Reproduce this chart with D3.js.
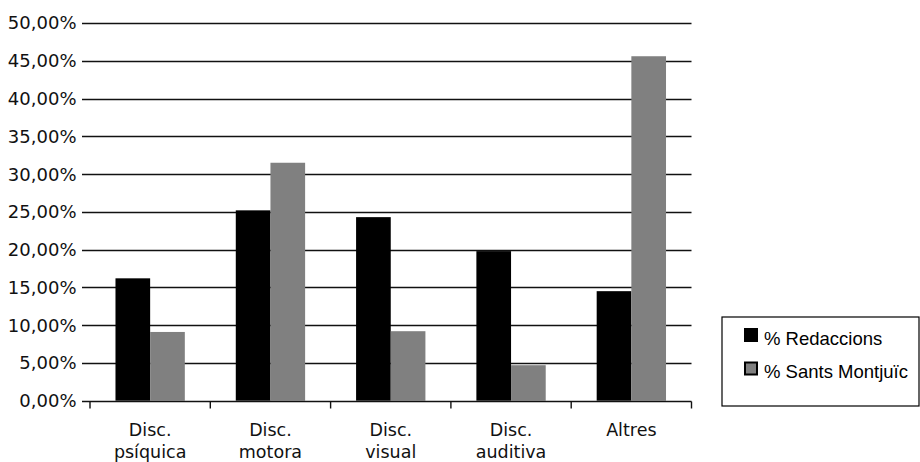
<!DOCTYPE html>
<html>
<head>
<meta charset="utf-8">
<script src="https://cdn.jsdelivr.net/npm/d3@7"></script>
<style>
  body { margin: 0; background: #fff; }
  svg { display: block; }
</style>
</head>
<body>
<svg width="920" height="462"></svg>
<script>
// Categories and series (percent values)
const categories = [["Disc.", "psíquica"], ["Disc.", "motora"], ["Disc.", "visual"], ["Disc.", "auditiva"], ["Altres"]];
const seriesNames = ["% Redaccions", "% Sants Montjuïc"];
const redaccions = [16.2, 25.2, 24.3, 19.8, 14.5];
const santsMontjuic = [9.1, 31.5, 9.2, 4.7, 45.6];
const yTicks = [0, 5, 10, 15, 20, 25, 30, 35, 40, 45, 50];
const colors = ["#000000", "#808080"];

let svg = d3.select("svg");

// area of the plot
let area = { left: 90, right: 691.5, top: 23, bottom: 400.7 };

let catKeys = categories.map((c, i) => i);

let scaleX = d3.scaleBand()
    .domain(catKeys)
    .range([area.left, area.right]);

let scaleInner = d3.scaleBand()
    .domain([0, 1])
    .range([0, scaleX.bandwidth()])
    .paddingInner(0)
    .paddingOuter(0.735);

let scaleY = d3.scaleLinear()
    .domain([0, 50])
    .range([area.bottom, area.top]);

// Grid lines (with tick on left)
svg.append("g")
    .selectAll("line")
    .data(yTicks.filter(d => d > 0))
    .enter()
    .append("line")
    .attr("x1", area.left - 8)
    .attr("x2", area.right)
    .attr("y1", d => Math.round(scaleY(d)) + 0.5)
    .attr("y2", d => Math.round(scaleY(d)) + 0.5)
    .style("stroke", "#111")
    .style("stroke-width", 1.4);

// Y labels
let fmt = d => d3.format(".2f")(d).replace(".", ",") + "%";
svg.append("g")
    .selectAll("text")
    .data(yTicks)
    .enter()
    .append("text")
    .attr("x", 76.5)
    .attr("y", d => scaleY(d))
    .attr("dy", "0.36em")
    .attr("text-anchor", "end")
    .style("font-family", "DejaVu Sans")
    .style("font-size", "18px")
    .style("fill", "#111")
    .text(fmt);

// Bars
let seriesData = [redaccions, santsMontjuic];
seriesData.forEach((vals, s) => {
    svg.append("g")
        .selectAll("rect")
        .data(vals)
        .enter()
        .append("rect")
        .attr("x", (d, i) => scaleX(i) + scaleInner(s))
        .attr("y", d => scaleY(d))
        .attr("width", scaleInner.bandwidth())
        .attr("height", d => scaleY(0) - scaleY(d))
        .style("fill", colors[s]);
});

// X axis with ticks on band edges
let gx = svg.append("g")
    .attr("transform", `translate(0, ${Math.round(area.bottom) + 0.5})`);
gx.append("line")
    .attr("x1", area.left - 8)
    .attr("x2", area.right)
    .style("stroke", "#111")
    .style("stroke-width", 1.4);
gx.selectAll(".xt")
    .data(catKeys.concat([catKeys.length]))
    .enter()
    .append("line")
    .attr("x1", d => d < catKeys.length ? scaleX(d) : area.right)
    .attr("x2", d => d < catKeys.length ? scaleX(d) : area.right)
    .attr("y1", 0)
    .attr("y2", 7)
    .style("stroke", "#111")
    .style("stroke-width", 1.4);

// Category labels
let lab = svg.append("g")
    .selectAll("text")
    .data(categories)
    .enter()
    .append("text")
    .attr("x", (d, i) => scaleX(i) + scaleX.bandwidth() / 2)
    .attr("y", 435.5)
    .attr("text-anchor", "middle")
    .style("font-family", "DejaVu Sans")
    .style("font-size", "17.5px")
    .style("fill", "#111");
lab.each(function(d) {
    let t = d3.select(this);
    d.forEach((line, k) => {
        t.append("tspan")
            .attr("x", t.attr("x"))
            .attr("dy", k == 0 ? 0 : 22.5)
            .text(line);
    });
});

// Legend
let leg = svg.append("g");
leg.append("rect")
    .attr("x", 722)
    .attr("y", 317)
    .attr("width", 197)
    .attr("height", 89)
    .style("fill", "none")
    .style("stroke", "#000")
    .style("stroke-width", 1.2);
seriesNames.forEach((name, s) => {
    let y0 = 328 + s * 33.5;
    leg.append("rect")
        .attr("x", s == 0 ? 744 : 745)
        .attr("y", s == 0 ? y0 : y0 + 1)
        .attr("width", s == 0 ? 14 : 12)
        .attr("height", s == 0 ? 14 : 12)
        .style("fill", colors[s])
        .style("stroke", "#000")
        .style("stroke-width", s == 0 ? 0 : 2);
    leg.append("text")
        .attr("x", 764)
        .attr("y", y0 + 16.5)
        .style("font-family", "Liberation Sans")
        .style("font-size", "18.5px")
        .style("fill", "#000")
        .text(name);
});
</script>
</body>
</html>
